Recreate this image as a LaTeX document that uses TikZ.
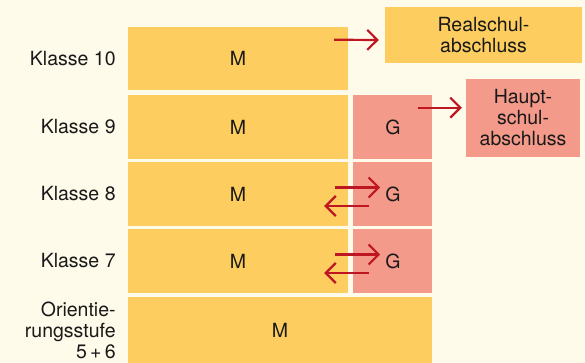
\documentclass[tikz,border=0pt]{standalone}
\usepackage{fontspec}
\setmainfont{TeX Gyre Heros}
\usetikzlibrary{arrows.meta,positioning}
\definecolor{creme}{HTML}{FFFBEA}
\definecolor{mgelb}{HTML}{FDCE5F}
\definecolor{grot}{HTML}{F39A8A}
\definecolor{pfeilrot}{HTML}{BE1622}

\begin{document}
\begin{tikzpicture}[x=1pt,y=1pt,
  every node/.style={font=\fontsize{19.5}{21}\selectfont,text=black!90},
  mbox/.style={rectangle,fill=mgelb,minimum width=220pt,minimum height=63.5pt,inner sep=0pt},
  gbox/.style={rectangle,fill=grot,minimum width=79pt,minimum height=63.5pt,inner sep=0pt},
  lbl/.style={align=right,inner sep=0pt},
  pfeil/.style={-{Straight Barb[length=10pt,width=20pt]},line width=2.2pt,draw=pfeilrot}]

  \fill[creme] (0,0) rectangle (585,363);
  \useasboundingbox (0,0) rectangle (585,363);

  % Mittelstufe
  \node[mbox] (m10) at (238,304.25) {M};
  \node[mbox] (m9) at (238,236) {M};
  \node[mbox] (m8) at (238,169) {M};
  \node[mbox] (m7) at (238,102) {M};
  \node[mbox,minimum width=304pt,minimum height=65.5pt] (os) at (280,32.75) {M};

  \node[gbox,right=5pt of m9] (g9) {G};
  \node[gbox,right=5pt of m8] (g8) {G};
  \node[gbox,right=5pt of m7] (g7) {G};

  % Abschluesse
  \node[mbox,minimum width=197pt,minimum height=56pt,align=center] (rs) at (483.5,328) {Realschul-\\abschluss};
  \node[gbox,minimum width=114pt,minimum height=78pt,align=center] (hs) at (523,245) {Haupt-\\schul-\\abschluss};

  % Klassen
  \node[lbl,left=12pt of m10] {Klasse 10};
  \node[lbl,left=12pt of m9] {Klasse 9};
  \node[lbl,left=12pt of m8] {Klasse 8};
  \node[lbl,left=12pt of m7] {Klasse 7};
  \node[lbl,left=12pt of os] {Orientie-\\rungsstufe\\5\,+\,6};

  \draw[pfeil] ([xshift=-14pt,yshift=19pt]m10.east) -- ([xshift=-6pt,yshift=-5pt]rs.west);
  \draw[pfeil] ([xshift=-15pt,yshift=19.3pt]g9.east) -- ([xshift=-4pt,yshift=10.3pt]hs.west);
  \foreach \r in {8,7} {
    \draw[pfeil] ([xshift=-13pt,yshift=6.5pt]m\r.east) -- ([xshift=27pt,yshift=6.5pt]g\r.west);
    \draw[pfeil] ([xshift=16pt,yshift=-12pt]g\r.west) -- ([xshift=-24pt,yshift=-12pt]m\r.east);
  }
\end{tikzpicture}
\end{document}
